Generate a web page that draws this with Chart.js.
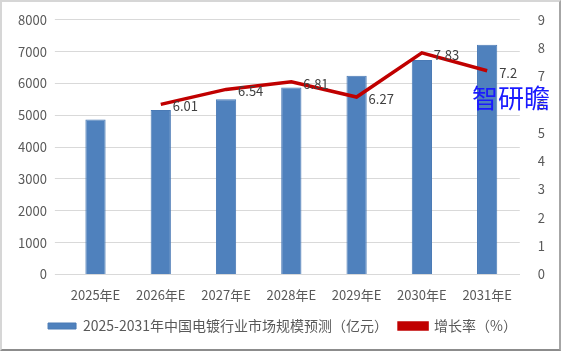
<!DOCTYPE html>
<html>
<head>
<meta charset="utf-8">
<script src="https://cdn.jsdelivr.net/npm/chart.js@4"></script>
<style>
  html, body { margin: 0; padding: 0; background: #fff; }
  #wrap {
    position: relative; width: 561px; height: 351px; box-sizing: border-box;
    border: 2px solid #d6d6d6; border-right-color: #a6a6a6; border-bottom-color: #8c8c8c;
  }
  #cht { display: block; }
  #mark {
    position: absolute; left: 470px; top: 82px;
    font-family: "Noto Sans CJK SC", sans-serif; font-size: 26px; color: #1a1aff;
    line-height: 1; white-space: nowrap;
  }
</style>
</head>
<body>
<div id="wrap">
  <canvas id="cht" width="557" height="347"></canvas>
  <div id="mark">智研瞻</div>
</div>
<script>
const years = ["2025年E", "2026年E", "2027年E", "2028年E", "2029年E", "2030年E", "2031年E"]
const marketSize = [4870, 5163, 5501, 5876, 6244, 6733, 7218]
const growthRate = [null, 6.01, 6.54, 6.81, 6.27, 7.83, 7.2]
const leftTicks = [0, 1000, 2000, 3000, 4000, 5000, 6000, 7000, 8000]
const rightTicks = [0, 1, 2, 3, 4, 5, 6, 7, 8, 9]

const fontFam = '"Noto Sans CJK SC", "Noto Sans", sans-serif'

// labels for the growth line, right of each point
const lineLabels = {
  id: 'lineLabels',
  afterDatasetsDraw(chart) {
    const ctx = chart.ctx
    const meta = chart.getDatasetMeta(1)
    ctx.save()
    ctx.font = '13px ' + fontFam
    ctx.fillStyle = '#404040'
    ctx.textAlign = 'left'
    ctx.textBaseline = 'middle'
    meta.data.forEach((pt, i) => {
      if (growthRate[i] == null) return
      ctx.fillText(String(growthRate[i]), pt.x + 12, pt.y + 2)
    })
    ctx.restore()
  }
}

new Chart("cht", {
  type: "bar",
  data: {
    labels: years,
    datasets: [{
      label: "2025-2031年中国电镀行业市场规模预测（亿元）",
      data: marketSize,
      backgroundColor: "#4f81bd",
      borderColor: "#4a7ab5",
      borderWidth: 1,
      barPercentage: 0.62,
      categoryPercentage: 0.5,
      yAxisID: "y",
      order: 2
    }, {
      type: "line",
      label: "增长率（%）",
      data: growthRate,
      borderColor: "#c00000",
      backgroundColor: "#c00000",
      borderWidth: 3.5,
      pointRadius: 0,
      tension: 0,
      yAxisID: "y1",
      order: 1
    }]
  },
  options: {
    responsive: false,
    animation: false,
    layout: { padding: { top: 10, right: 4, left: 8, bottom: 6 } },
    plugins: {
      legend: {
        position: "bottom",
        labels: {
          font: { size: 14, family: fontFam },
          color: "#595959",
          boxWidth: 28,
          boxHeight: 6,
          padding: 11,
          sort: (a, b) => a.datasetIndex - b.datasetIndex
        }
      },
      tooltip: { enabled: false }
    },
    scales: {
      x: {
        grid: { display: false },
        border: { color: "#d9d9d9" },
        ticks: { color: "#595959", font: { size: 13, family: fontFam }, padding: 5 }
      },
      y: {
        min: 0, max: 8000,
        afterBuildTicks: axis => { axis.ticks = leftTicks.map(v => ({ value: v })) },
        grid: { color: "#d9d9d9" },
        border: { display: false },
        ticks: { color: "#595959", font: { size: 13, family: fontFam }, padding: 8, callback: v => String(v) }
      },
      y1: {
        position: "right",
        min: 0, max: 9,
        afterBuildTicks: axis => { axis.ticks = rightTicks.map(v => ({ value: v })) },
        grid: { display: false },
        border: { display: false },
        ticks: { color: "#595959", font: { size: 13, family: fontFam }, padding: 10, callback: v => String(v) }
      }
    }
  },
  plugins: [lineLabels]
})
</script>
</body>
</html>
